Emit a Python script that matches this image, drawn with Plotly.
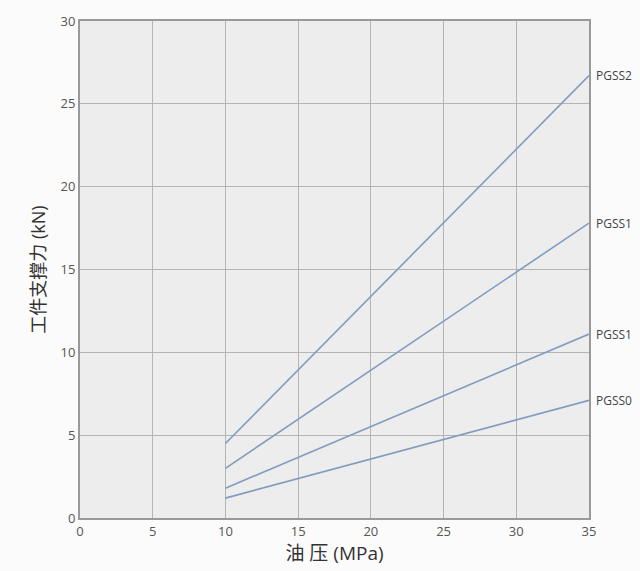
import plotly.graph_objects as go

pressure = [10, 35]
series_names = ["PGSS2", "PGSS1", "PGSS1", "PGSS0"]
force_values = [
    [4.5, 26.7],
    [3.0, 17.8],
    [1.8, 11.1],
    [1.2, 7.1],
]
x_ticks = [0, 5, 10, 15, 20, 25, 30, 35]
y_ticks = [0, 5, 10, 15, 20, 25, 30]

fig = go.Figure()
for name, vals in zip(series_names, force_values):
    fig.add_trace(go.Scatter(x=pressure, y=vals, mode="lines", name=name,
                             line=dict(color="#819cbf", width=1.6), showlegend=False))
    fig.add_annotation(x=pressure[-1], y=vals[-1], text=name, xref="x", yref="y",
                       xanchor="left", yanchor="middle", xshift=5, showarrow=False,
                       font=dict(size=12, color="#444444", family="Open Sans, Noto Sans CJK SC"))

fig.update_layout(
    width=640, height=571,
    margin=dict(l=80, r=51, t=18, b=53),
    paper_bgcolor="#fbfbfb",
    plot_bgcolor="#ededed",
    font=dict(family="Open Sans, Noto Sans CJK SC", color="#555555", size=13),
)
fig.update_xaxes(range=[0, 35], tickvals=x_ticks, showgrid=True, gridcolor="#b4b4b4", gridwidth=1,
                 showline=True, linecolor="#999999", linewidth=2, mirror=True, zeroline=False,
                 ticks="", tickfont=dict(size=13, color="#555555"),
                 title=dict(text="油 压 (MPa)", font=dict(size=19, color="#333333"), standoff=6))
fig.update_yaxes(range=[0, 30], tickvals=y_ticks, showgrid=True, gridcolor="#b4b4b4", gridwidth=1,
                 showline=True, linecolor="#999999", linewidth=2, mirror=True, zeroline=False,
                 ticks="", tickfont=dict(size=13, color="#555555"),
                 title=dict(text="工件支撑力 (kN)", font=dict(size=18, color="#333333"), standoff=10))

fig.write_html("out.html", config={"displayModeBar": False},
               post_script="document.body.style.margin='0';")
